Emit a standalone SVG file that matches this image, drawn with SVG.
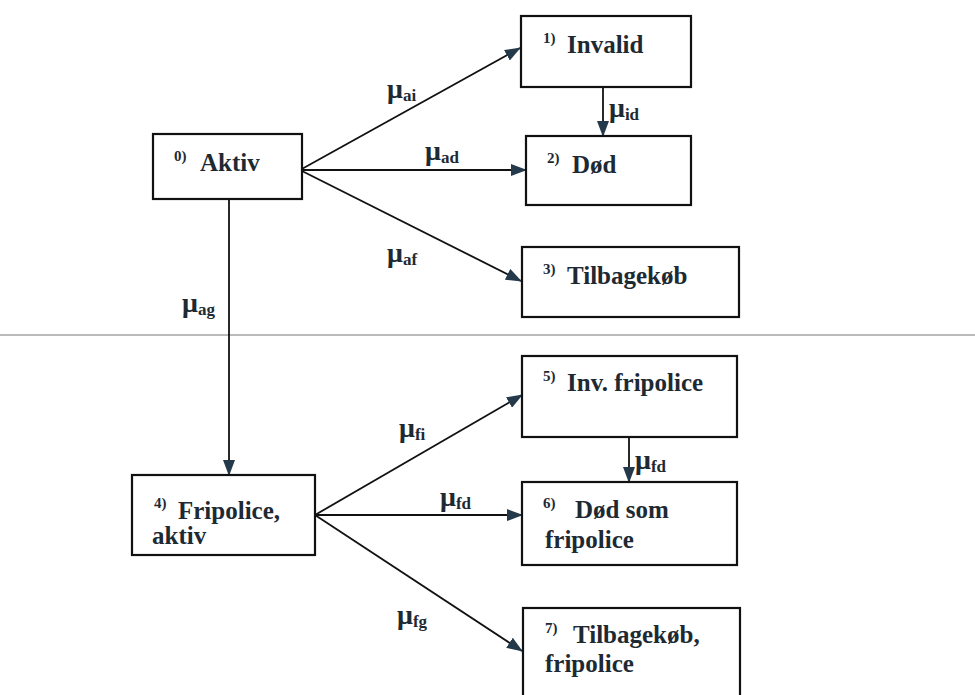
<svg xmlns="http://www.w3.org/2000/svg" width="975" height="695" viewBox="0 0 975 695">
<style>
.box{fill:#fff;stroke:#111;stroke-width:2.2}
.t{font-family:"Liberation Serif","Times New Roman",serif;font-weight:bold;font-size:25px;fill:#1e2a33}
.s{font-family:"Liberation Serif","Times New Roman",serif;font-weight:bold;font-size:15px;fill:#1e2a33}
.m{font-family:"Liberation Serif","Times New Roman",serif;font-weight:bold;font-size:28px;fill:#1e2a33}
.sub{font-size:17px}
.c{stroke:#111;stroke-width:1.8;fill:none;marker-end:url(#ah)}
</style>
<defs>
<marker id="ah" markerWidth="16" markerHeight="12" refX="15" refY="6" orient="auto" markerUnits="userSpaceOnUse">
<path d="M0,0 L16,6 L0,12 z" fill="#24394a"/>
</marker>
</defs>
<rect width="975" height="695" fill="#fff"/>
<line x1="0" y1="335" x2="975" y2="335" stroke="#777" stroke-width="1.2"/>
<g id="connectors">
<line class="c" x1="300" y1="170" x2="520" y2="48"/>
<line class="c" x1="300" y1="170" x2="526" y2="170"/>
<line class="c" x1="300" y1="170" x2="521" y2="281"/>
<line class="c" x1="603" y1="87" x2="603" y2="136"/>
<line class="c" x1="229" y1="199" x2="229" y2="475"/>
<line class="c" x1="315" y1="515" x2="522" y2="395"/>
<line class="c" x1="315" y1="515" x2="522" y2="515"/>
<line class="c" x1="315" y1="515" x2="522" y2="651"/>
<line class="c" x1="629" y1="437" x2="629" y2="482"/>
<text class="m" x="387" y="98">μ<tspan class="sub" dy="3">ai</tspan></text>
<text class="m" x="425" y="160">μ<tspan class="sub" dy="3">ad</tspan></text>
<text class="m" x="387" y="262">μ<tspan class="sub" dy="3">af</tspan></text>
<text class="m" x="609" y="117">μ<tspan class="sub" dy="3">id</tspan></text>
<text class="m" x="182" y="312">μ<tspan class="sub" dy="3">ag</tspan></text>
<text class="m" x="399" y="437">μ<tspan class="sub" dy="3">fi</tspan></text>
<text class="m" x="440" y="506">μ<tspan class="sub" dy="3">fd</tspan></text>
<text class="m" x="635" y="469">μ<tspan class="sub" dy="3">fd</tspan></text>
<text class="m" x="397" y="624">μ<tspan class="sub" dy="3">fg</tspan></text>
</g>
<g id="n0"><rect class="box" x="153" y="134" width="149" height="65"/>
<text class="s" x="174" y="161">0)</text><text class="t" x="200" y="171">Aktiv</text></g>
<g id="n1"><rect class="box" x="521" y="16" width="170" height="71"/>
<text class="s" x="543" y="43">1)</text><text class="t" x="567" y="53">Invalid</text></g>
<g id="n2"><rect class="box" x="526" y="136" width="165" height="69"/>
<text class="s" x="547" y="163">2)</text><text class="t" x="572" y="173">Død</text></g>
<g id="n3"><rect class="box" x="522" y="247" width="217" height="70"/>
<text class="s" x="543" y="274">3)</text><text class="t" x="567" y="284">Tilbagekøb</text></g>
<g id="n4"><rect class="box" x="132" y="475" width="183" height="80"/>
<text class="s" x="154" y="508">4)</text><text class="t" x="178" y="519">Fripolice,</text>
<text class="t" x="152" y="544">aktiv</text></g>
<g id="n5"><rect class="box" x="522" y="356" width="215" height="81"/>
<text class="s" x="543" y="381">5)</text><text class="t" x="567" y="391">Inv. fripolice</text></g>
<g id="n6"><rect class="box" x="522" y="482" width="215" height="83"/>
<text class="s" x="543" y="508">6)</text><text class="t" x="575" y="518">Død som</text>
<text class="t" x="545" y="548">fripolice</text></g>
<g id="n7"><rect class="box" x="523" y="608" width="217" height="100"/>
<text class="s" x="545" y="633">7)</text><text class="t" x="573" y="643">Tilbagekøb,</text>
<text class="t" x="545" y="672">fripolice</text></g>
</svg>
